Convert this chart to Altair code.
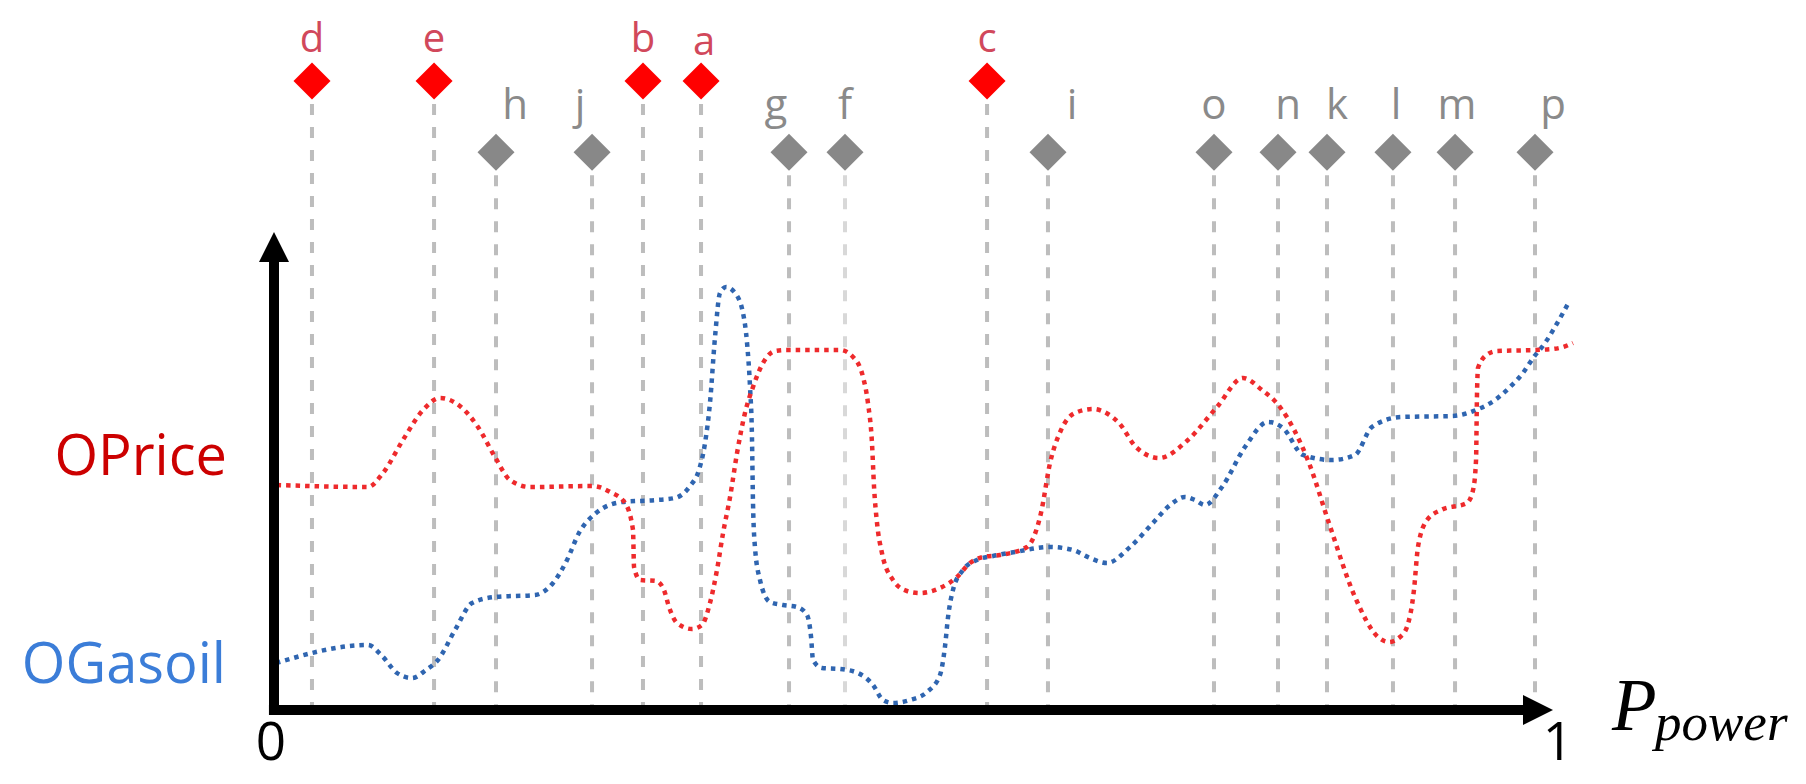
import altair as alt
import pandas as pd

# ---------------- data ----------------
# OPrice curve (x = P_power in [0, 1], y = relative level)
price_x = [0.002, 0.0725, 0.0841, 0.0995, 0.115, 0.128, 0.1443, 0.1574, 0.1705, 0.1821,
           0.1975, 0.2461, 0.2593, 0.2708, 0.277, 0.2778, 0.2824, 0.2948, 0.3009, 0.3048,
           0.311, 0.3225, 0.3302, 0.3364, 0.3418, 0.3465, 0.3519, 0.3573, 0.3634, 0.3696,
           0.3773, 0.3866, 0.3958, 0.4367, 0.4468, 0.4545, 0.4583, 0.4614, 0.463, 0.4653,
           0.4691, 0.4776, 0.4884, 0.4985, 0.5139, 0.527, 0.537, 0.5471, 0.5602, 0.581,
           0.5918, 0.5988, 0.6073, 0.618, 0.6319, 0.6435, 0.652, 0.6651, 0.6829, 0.7052,
           0.7276, 0.7477, 0.7623, 0.7762, 0.7986, 0.814, 0.8341, 0.8519, 0.8603, 0.8688,
           0.8742, 0.8796, 0.8827, 0.8897, 0.9005, 0.9205, 0.9252, 0.9275, 0.9282, 0.929,
           0.9367, 0.9437, 0.973, 0.9869, 0.9946, 1.0023]
price_y = [0.4707, 0.4665, 0.4958, 0.5649, 0.6276, 0.6527, 0.6339, 0.5921, 0.5293, 0.4812,
           0.4665, 0.4686, 0.4561, 0.4331, 0.3766, 0.2992, 0.272, 0.2699, 0.251, 0.2155,
           0.182, 0.1695, 0.1778, 0.2238, 0.2929, 0.3703, 0.4456, 0.5377, 0.6213, 0.6757,
           0.7259, 0.751, 0.7531, 0.7531, 0.7385, 0.6967, 0.6423, 0.5586, 0.4665, 0.3912,
           0.3285, 0.272, 0.249, 0.2448, 0.2552, 0.2782, 0.3075, 0.3201, 0.3243, 0.341,
           0.4121, 0.5167, 0.5858, 0.6213, 0.6297, 0.6192, 0.6004, 0.5502, 0.5272, 0.5649,
           0.6339, 0.6946, 0.6695, 0.6339, 0.5167, 0.3912, 0.2364, 0.1527, 0.1423, 0.1527,
           0.1736, 0.251, 0.341, 0.3975, 0.4184, 0.4331, 0.4603, 0.523, 0.6548, 0.7155,
           0.7448, 0.751, 0.7531, 0.7552, 0.7594, 0.7678]

# OGasoil curve
gasoil_x = [0.0015, 0.0725, 0.0841, 0.0949, 0.1065, 0.1173, 0.1265, 0.1397, 0.1528, 0.1705,
            0.2014, 0.2153, 0.2261, 0.2353, 0.2485, 0.2685, 0.2955, 0.3094, 0.321, 0.3279,
            0.3326, 0.3364, 0.3403, 0.3441, 0.3488, 0.3557, 0.3619, 0.365, 0.3673, 0.3688,
            0.3696, 0.3711, 0.375, 0.3827, 0.3927, 0.4035, 0.4113, 0.4144, 0.4159, 0.4228,
            0.4367, 0.4506, 0.4622, 0.4699, 0.4776, 0.4907, 0.5039, 0.5139, 0.5177, 0.5201,
            0.5239, 0.5316, 0.5424, 0.5548, 0.5718, 0.5988, 0.6165, 0.6296, 0.6427, 0.6605,
            0.6782, 0.6914, 0.7029, 0.7106, 0.7184, 0.7315, 0.7492, 0.767, 0.7785, 0.794,
            0.8164, 0.8341, 0.8472, 0.8696, 0.9097, 0.9275, 0.9421, 0.9537, 0.9637, 0.9715,
            0.9807, 0.9884, 0.9954, 0.9992]
gasoil_y = [0.0983, 0.136, 0.1109, 0.0774, 0.0669, 0.0837, 0.1046, 0.1674, 0.2238, 0.2364,
            0.2406, 0.2657, 0.3138, 0.3703, 0.4121, 0.4351, 0.4393, 0.4435, 0.4686, 0.5021,
            0.5586, 0.6423, 0.7803, 0.8724, 0.8849, 0.8724, 0.8305, 0.7678, 0.6757, 0.5711,
            0.4331, 0.341, 0.272, 0.2259, 0.2197, 0.2155, 0.1987, 0.1527, 0.1046, 0.0879,
            0.0858, 0.0774, 0.0523, 0.0209, 0.0146, 0.0209, 0.0377, 0.0732, 0.1318, 0.1946,
            0.251, 0.2929, 0.3138, 0.3222, 0.3305, 0.341, 0.3347, 0.318, 0.3075, 0.341,
            0.3912, 0.4289, 0.4456, 0.4393, 0.4289, 0.4665, 0.5502, 0.6025, 0.59, 0.5335,
            0.523, 0.5335, 0.5921, 0.613, 0.6151, 0.6276, 0.6485, 0.6757, 0.705, 0.7364,
            0.7678, 0.8013, 0.8347, 0.8536]

# event markers
red_names = ["d", "e", "b", "a", "c"]
red_pos = [0.0293, 0.1235, 0.2847, 0.3295, 0.5502]
gray_names = ["h", "j", "g", "f", "i", "o", "n", "k", "l", "m", "p"]
gray_pos = [0.1713, 0.2454, 0.3974, 0.4406, 0.5972, 0.7253, 0.7747, 0.8125, 0.8634, 0.9113, 0.973]
RED_LEVEL = 1.316
GRAY_LEVEL = 1.167

tick_values = [0, 1]
tick_labels = ["0", "1"]
series_names = ["OPrice", "OGasoil"]
x_title_main = "P"
x_title_sub = "power"

# ---------------- layout / style ----------------
W, H, MARGIN = 1790, 768, 8
X0, XU = 274, 1296      # page px of x=0, px per x unit
Y0, YU = 710, 478       # page px of y=0, px per y unit
xdom = [(MARGIN - X0) / XU, (MARGIN + W - X0) / XU]
ydom = [(Y0 - MARGIN - H) / YU, (Y0 - MARGIN) / YU]

RED_DOT = "#ee2a2c"
BLUE_DOT = "#2f65b0"
FONT = "Open Sans"

xs = alt.Scale(domain=xdom, nice=False, zero=False)
ys = alt.Scale(domain=ydom, nice=False, zero=False)


def X(f):
    return alt.X(f, type="quantitative", scale=xs, axis=None)


def Y(f):
    return alt.Y(f, type="quantitative", scale=ys, axis=None)


# label nudges in px (dx, dy) relative to marker
label_dx = {"a": 3, "h": 19, "j": -12, "g": -13, "i": 24, "n": 10,
            "k": 10, "l": 3, "m": 2, "p": 18}
label_dy = {"a": 3}
RED_LABEL_RISE = 29
GRAY_LABEL_RISE = 33

markers = pd.DataFrame({
    "name": red_names + gray_names,
    "x": red_pos + gray_pos,
    "kind": ["red"] * len(red_names) + ["gray"] * len(gray_names),
})
markers["level"] = [RED_LEVEL if k == "red" else GRAY_LEVEL for k in markers["kind"]]
markers["base"] = 0.0
markers["fill"] = ["#ff0000" if k == "red" else "#888888" for k in markers["kind"]]
markers["lcolor"] = ["#d1485b" if k == "red" else "#8a8a8a" for k in markers["kind"]]
markers["lx"] = [x + label_dx.get(n, 0) / XU for x, n in zip(markers["x"], markers["name"])]
markers["ly"] = [lv + ((RED_LABEL_RISE if k == "red" else GRAY_LABEL_RISE) - label_dy.get(n, 0)) / YU
                 for lv, k, n in zip(markers["level"], markers["kind"], markers["name"])]

# dashed guide lines
guides = alt.Chart(markers).mark_rule(strokeDash=[11, 12], strokeWidth=4).encode(
    x=X("x"), y=Y("level"), y2="base",
    color=alt.condition("datum.name == 'f'", alt.value("#d8d8d8"), alt.value("#bdbdbd")),
)

# curves
df_price = pd.DataFrame({"x": price_x, "y": price_y})
df_gas = pd.DataFrame({"x": gasoil_x, "y": gasoil_y})
line_style = dict(interpolate="monotone", strokeDash=[4.5, 5], strokeWidth=4.5, strokeCap="butt")
gas_line = alt.Chart(df_gas).mark_line(color=BLUE_DOT, **line_style).encode(x=X("x"), y=Y("y"))
price_line = alt.Chart(df_price).mark_line(color=RED_DOT, **line_style).encode(x=X("x"), y=Y("y"))

# axes (arrows)
ax_x = alt.Chart(pd.DataFrame({"x": [-0.0039], "x2": [0.9753], "y": [0.0]})).mark_rule(
    strokeWidth=10, color="black", strokeCap="butt").encode(x=X("x"), x2="x2", y=Y("y"))
ax_y = alt.Chart(pd.DataFrame({"x": [0.0], "y": [-0.0105], "y2": [0.9686]})).mark_rule(
    strokeWidth=10, color="black", strokeCap="butt").encode(x=X("x"), y=Y("y"), y2="y2")
head_up = alt.Chart(pd.DataFrame({"x": [0.0], "y": [0.9686]})).mark_point(
    shape="M0,-1L1,1L-1,1Z", filled=True, size=900, color="black", opacity=1, strokeWidth=0
).encode(x=X("x"), y=Y("y"))
head_right = alt.Chart(pd.DataFrame({"x": [0.9753], "y": [0.0]})).mark_point(
    shape="M1,0L-1,1L-1,-1Z", filled=True, size=900, color="black", opacity=1, strokeWidth=0
).encode(x=X("x"), y=Y("y"))

# diamonds
diamonds = alt.Chart(markers).mark_point(
    shape="diamond", filled=True, size=1369, opacity=1, strokeWidth=0
).encode(x=X("x"), y=Y("level"), color=alt.Color("fill:N", scale=None))

red_labels = alt.Chart(markers).transform_filter("datum.kind == 'red'").mark_text(
    font=FONT, fontSize=40, align="center", baseline="alphabetic"
).encode(x=X("lx"), y=Y("ly"), text="name:N", color=alt.Color("lcolor:N", scale=None))
gray_labels = alt.Chart(markers).transform_filter("datum.kind == 'gray'").mark_text(
    font=FONT, fontSize=42, align="center", baseline="alphabetic"
).encode(x=X("lx"), y=Y("ly"), text="name:N", color=alt.Color("lcolor:N", scale=None))

# tick labels 0 / 1
tick_dx = [-3, -12]
ticks = pd.DataFrame({"x": [v + d / XU for v, d in zip(tick_values, tick_dx)],
                      "y": [-50 / YU] * 2, "t": tick_labels})
tick_text = alt.Chart(ticks).mark_text(
    font=FONT, fontSize=53, align="center", baseline="alphabetic", color="black"
).encode(x=X("x"), y=Y("y"), text="t:N")

# series names
names = pd.DataFrame({"x": [-0.0363, -0.0371], "y": [0.4916, 0.0565],
                      "t": series_names, "c": ["#cc0000", "#3b7dd8"]})
name_text = alt.Chart(names).mark_text(
    font=FONT, fontSize=56, align="right", baseline="alphabetic"
).encode(x=X("x"), y=Y("y"), text="t:N", color=alt.Color("c:N", scale=None))

# x axis title P_power
p_main = alt.Chart(pd.DataFrame({"x": [1.0324], "y": [-0.0418], "t": [x_title_main]})).mark_text(
    font="Liberation Serif", fontStyle="italic", fontSize=73, align="left",
    baseline="alphabetic", color="black").encode(x=X("x"), y=Y("y"), text="t:N")
p_sub = alt.Chart(pd.DataFrame({"x": [1.0656], "y": [-0.0628], "t": [x_title_sub]})).mark_text(
    font="Liberation Serif", fontStyle="italic", fontSize=53, align="left",
    baseline="alphabetic", color="black").encode(x=X("x"), y=Y("y"), text="t:N")

chart = alt.layer(
    guides, gas_line, price_line, ax_x, ax_y, head_up, head_right,
    diamonds, red_labels, gray_labels, tick_text, name_text, p_main, p_sub
).properties(
    width=W, height=H, autosize=alt.AutoSizeParams(type="none"), padding=0,
    background="white"
).configure_view(stroke=None)

chart.save("out.html", embed_options={"renderer": "svg", "actions": False})
